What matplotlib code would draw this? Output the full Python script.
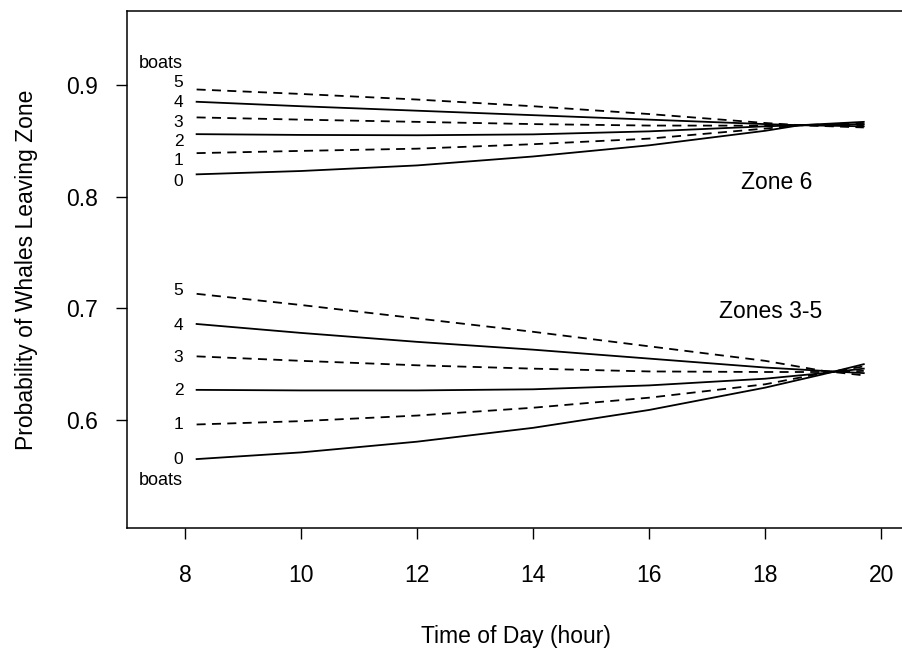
import matplotlib
matplotlib.use('Agg')
import matplotlib.pyplot as plt

plt.rcParams['font.family'] = ['Liberation Sans', 'DejaVu Sans']

hours_z6 = [8.2, 10, 12, 14, 16, 18, 18.6, 19.7]
hours_z35 = [8.2, 10, 12, 14, 16, 18, 19, 19.7]

boats = [0, 1, 2, 3, 4, 5]

# Zone 6, one list per number of boats
zone6 = {
    0: [0.820, 0.823, 0.828, 0.836, 0.846, 0.859, 0.864, 0.867],
    1: [0.839, 0.841, 0.843, 0.847, 0.852, 0.861, 0.864, 0.866],
    2: [0.856, 0.8553, 0.855, 0.8558, 0.8585, 0.863, 0.864, 0.865],
    3: [0.871, 0.869, 0.867, 0.865, 0.8637, 0.8636, 0.864, 0.864],
    4: [0.885, 0.881, 0.877, 0.873, 0.869, 0.865, 0.864, 0.863],
    5: [0.896, 0.892, 0.887, 0.881, 0.874, 0.866, 0.864, 0.862],
}

# Zones 3-5
zone35 = {
    0: [0.565, 0.571, 0.5806, 0.593, 0.609, 0.629, 0.641, 0.650],
    1: [0.596, 0.599, 0.604, 0.611, 0.620, 0.632, 0.642, 0.648],
    2: [0.627, 0.6265, 0.6265, 0.6275, 0.631, 0.637, 0.642, 0.646],
    3: [0.657, 0.653, 0.649, 0.646, 0.6435, 0.643, 0.643, 0.644],
    4: [0.686, 0.678, 0.670, 0.663, 0.655, 0.647, 0.644, 0.642],
    5: [0.713, 0.703, 0.691, 0.679, 0.666, 0.653, 0.644, 0.640],
}

# where the boat numbers sit on the left
label_y_z6 = [0.814, 0.832, 0.849, 0.866, 0.884, 0.902]
label_y_z35 = [0.565, 0.596, 0.626, 0.656, 0.685, 0.716]

xticks = [8, 10, 12, 14, 16, 18, 20]
yticks = [0.6, 0.7, 0.8, 0.9]

fig = plt.figure(figsize=(9.02, 6.5), dpi=100)
ax = fig.add_axes([0.1408, 0.1877, 0.8625, 0.7954])

for b in boats:
    ls = '-' if b % 2 == 0 else (0, (5, 3.5))
    ax.plot(hours_z6, zone6[b], color='black', lw=1.3, linestyle=ls)
    ax.plot(hours_z35, zone35[b], color='black', lw=1.3, linestyle=ls)

for b, y in zip(boats, label_y_z6):
    ax.text(7.97, y, str(b), ha='right', va='center', fontsize=12.5)
for b, y in zip(boats, label_y_z35):
    ax.text(7.97, y, str(b), ha='right', va='center', fontsize=12.5)
ax.text(7.97, 0.919, 'boats', ha='right', va='center', fontsize=13)
ax.text(7.97, 0.546, 'boats', ha='right', va='center', fontsize=13)

ax.text(18.2, 0.813, 'Zone 6', ha='center', va='center', fontsize=16.5)
ax.text(18.1, 0.697, 'Zones 3-5', ha='center', va='center', fontsize=16.5)

ax.set_xlim(7.0, 20.41)
ax.set_ylim(0.5033, 0.9663)
ax.set_xticks(xticks)
ax.set_yticks(yticks)
ax.set_xticklabels([str(t) for t in xticks])
ax.set_yticklabels(['%.1f' % t for t in yticks])
ax.tick_params(axis='both', direction='out', length=8, width=1, labelsize=16.5)
ax.tick_params(axis='x', pad=18)
ax.tick_params(axis='y', pad=13)
for s in ax.spines.values():
    s.set_linewidth(1.1)
ax.spines['right'].set_visible(False)

ax.set_xlabel('Time of Day (hour)', fontsize=16.5, labelpad=27)
ax.set_ylabel('Probability of Whales Leaving Zone', fontsize=16.5, labelpad=20)

fig.savefig('out.png', dpi=100)
